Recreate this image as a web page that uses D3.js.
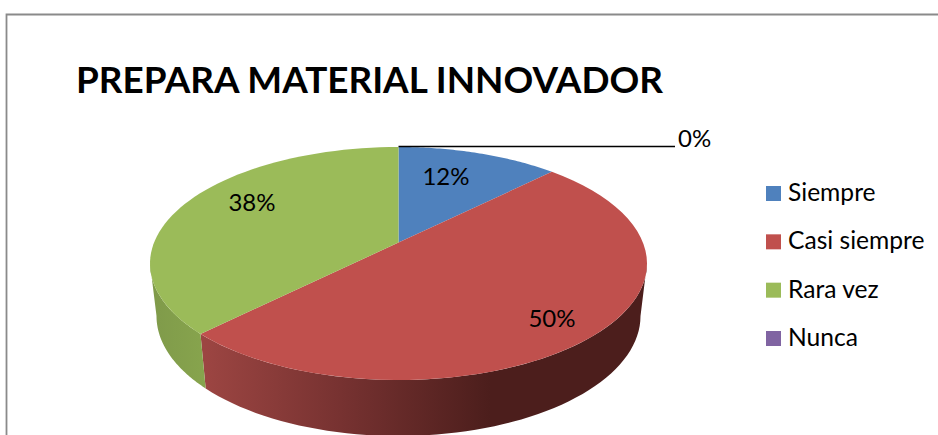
<!DOCTYPE html>
<html><head><meta charset="utf-8">
<script src="https://cdn.jsdelivr.net/npm/d3@7"></script>
<style>html,body{margin:0;padding:0;background:#fff;overflow:hidden}svg{display:block}text{font-family:Lato,"Open Sans",sans-serif;fill:#000}</style>
</head><body><svg id="c" width="938" height="435"></svg>
<script>
const title = "PREPARA MATERIAL INNOVADOR";
const categories = ["Siempre", "Casi siempre", "Rara vez", "Nunca"];
const values = [12.5, 50, 37.5, 0];
const valueLabels = ["12%", "50%", "38%", "0%"];
const colors = ["#4f81bd", "#c0504d", "#9bbb59", "#8064a2"];

const svg = d3.select("#c");
// frame
svg.append("path").attr("d", "M6.5,435V14.5H938").attr("fill", "none").attr("stroke", "#8a8a8a").attr("stroke-width", 1.8);
svg.append("text").attr("x", 76).attr("y", 93).attr("font-size", 37).attr("font-weight", 700).attr("textLength", 587).attr("lengthAdjust", "spacingAndGlyphs").text(title);

const upper = {cx: 398.5, cy: 263.5, rx: 248.5, ry: 116.5};
const lower = {cx: 398.5, cy: 316, rx: 242, ry: 120};
const lambda = 0.834; // perspective shift of the pie centre along the vertical axis
// pie angle → angle on the drawn ellipse
const persp = a => {
  const turns = Math.round(a / (2 * Math.PI));
  return 2 * Math.atan(lambda * Math.tan(a / 2 - turns * Math.PI)) + turns * 2 * Math.PI;
};
const pt = (e, t) => [e.cx + e.rx * Math.sin(t), e.cy - e.ry * Math.cos(t)];
const apex = [upper.cx, upper.cy - upper.ry * (1 - lambda * lambda) / (1 + lambda * lambda)];
const arcPts = (e, a0, a1) => d3.range(0, 61).map(i => pt(e, a0 + (a1 - a0) * i / 60));
const line = d3.line();

const slices = d3.pie().sort(null).value(d => d)(values);

const defs = svg.append("defs");
const grad = defs.append("linearGradient").attr("id", "redSide").attr("gradientUnits", "userSpaceOnUse")
  .attr("x1", 205).attr("x2", 490).attr("y1", 0).attr("y2", 0);
grad.append("stop").attr("offset", 0).attr("stop-color", "#9c4542");
grad.append("stop").attr("offset", 0.5).attr("stop-color", "#753130");
grad.append("stop").attr("offset", 1).attr("stop-color", "#4c1e1c");
const gradG = defs.append("linearGradient").attr("id", "greenSide").attr("gradientUnits", "userSpaceOnUse")
  .attr("x1", 150).attr("x2", 205).attr("y1", 0).attr("y2", 0);
gradG.append("stop").attr("offset", 0).attr("stop-color", "#7f9a4a");
gradG.append("stop").attr("offset", 1).attr("stop-color", "#87a44d");

// side walls: only the part facing the viewer (ellipse angle 90°..270°)
const sideFill = ["#3d5f8c", "url(#redSide)", "url(#greenSide)", "#5f4a79"];
slices.forEach((s, i) => {
  const t0 = Math.max(persp(s.startAngle), Math.PI / 2);
  const t1 = Math.min(persp(s.endAngle), 3 * Math.PI / 2);
  if (t1 <= t0) return;
  const d = line([...arcPts(upper, t0, t1), ...arcPts(lower, t1, t0)]) + "Z";
  svg.append("path").attr("d", d).attr("fill", sideFill[i]);
});
// top faces
slices.forEach((s, i) => {
  if (s.endAngle <= s.startAngle) return;
  const d = line([apex, ...arcPts(upper, persp(s.startAngle), persp(s.endAngle))]) + "Z";
  svg.append("path").attr("d", d).attr("fill", colors[i]);
});

// leader line of the zero slice
const zero = pt(upper, persp(slices[3].startAngle));
const leaderEnd = 675;
svg.append("path").attr("d", line([[zero[0], zero[1] - 0.5], [leaderEnd, zero[1] - 0.5]])).attr("fill", "none").attr("stroke", "#000").attr("stroke-width", 1.5);

// data labels
const labelPos = [[446, 185], [552, 327], [252, 211], [678, 147]];
valueLabels.forEach((l, i) => {
  svg.append("text").attr("x", labelPos[i][0]).attr("y", labelPos[i][1])
    .attr("text-anchor", i === 3 ? "start" : "middle").attr("font-size", 24).text(l);
});

// legend
const legendY = d3.scalePoint().domain(categories).range([193.5, 338.5]);
const legend = svg.append("g");
categories.forEach((c, i) => {
  legend.append("rect").attr("x", 766).attr("y", legendY(c) - 7.5).attr("width", 15).attr("height", 15).attr("fill", colors[i]);
  legend.append("text").attr("x", 788).attr("y", legendY(c) + 7.5).attr("font-size", 24.6).text(c);
});
</script></body></html>
